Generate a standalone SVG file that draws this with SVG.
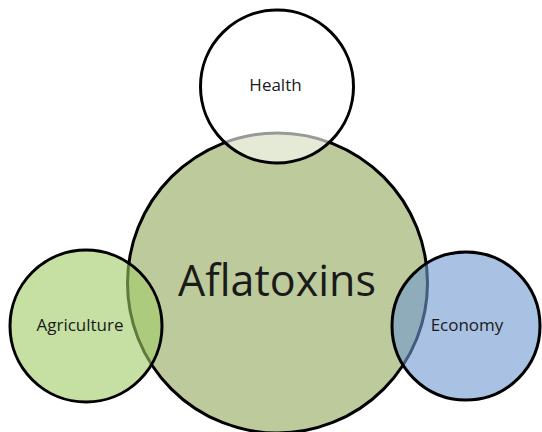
<svg xmlns="http://www.w3.org/2000/svg" width="542" height="432" viewBox="0 0 542 432">
<style>
.c{stroke:#000;stroke-width:3}
.t{font-family:"Open Sans","Liberation Sans",sans-serif;fill:#1a1a1a;text-anchor:middle}
.s{font-size:17px}
</style>
<rect width="542" height="432" fill="#fff"/>
<g id="aflatoxins">
<circle class="c" cx="277.5" cy="283" r="150" fill="#bdca9b"/>
<text class="t" x="277" y="296" font-size="43">Aflatoxins</text>
</g>
<g id="health">
<circle class="c" cx="277" cy="86.5" r="76.5" fill="#fff" fill-opacity="0.6"/>
<text class="t s" x="275.5" y="91">Health</text>
</g>
<g id="agriculture">
<circle class="c" cx="86" cy="326" r="76" fill="#a0cb67" fill-opacity="0.6"/>
<text class="t s" x="80" y="331">Agriculture</text>
</g>
<g id="economy">
<circle class="c" cx="466" cy="326" r="74" fill="#7098cf" fill-opacity="0.6"/>
<text class="t s" x="467" y="331">Economy</text>
</g>
<g id="connectors"></g>
</svg>
